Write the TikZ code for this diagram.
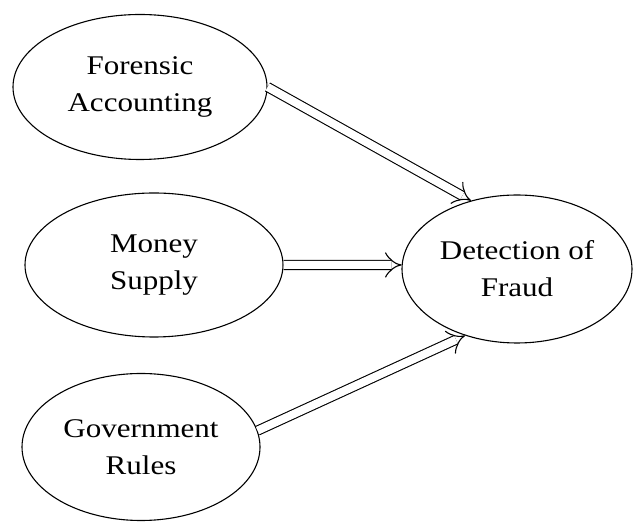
\documentclass[tikz,border=0pt]{standalone}
\usepackage{fontspec}
\setmainfont{Liberation Serif}[FakeStretch=1.15]
\usetikzlibrary{shapes.geometric, arrows.meta}

\tikzset{
  factor/.style={ellipse, draw, line width=1.1pt, inner sep=0pt, align=center,
    font=\fontsize{27}{37}\selectfont},
  link/.style={double, double distance=8pt, line width=1.1pt, -{Implies}}
}

\begin{document}
\begin{tikzpicture}[x=1pt, y=1pt]
\useasboundingbox (0, 0) rectangle (633, 522);

\node[factor, minimum width=254pt, minimum height=145pt] (forensic) at (140, 435) {Forensic\\Accounting};
\node[factor, minimum width=258pt, minimum height=144pt] (money) at (154, 257) {Money\\Supply};
\node[factor, minimum width=238pt, minimum height=147pt] (govrules) at (141, 75) {Government\\Rules};
\node[factor, minimum width=230pt, minimum height=148pt] (fraud) at (517, 253) {Detection of\\Fraud};

\draw[link] (forensic.east) -- (fraud.124);
\draw[link] (money.east) -- (fraud.178);
\draw[link] (govrules.8) -- (fraud.232);
\end{tikzpicture}
\end{document}
